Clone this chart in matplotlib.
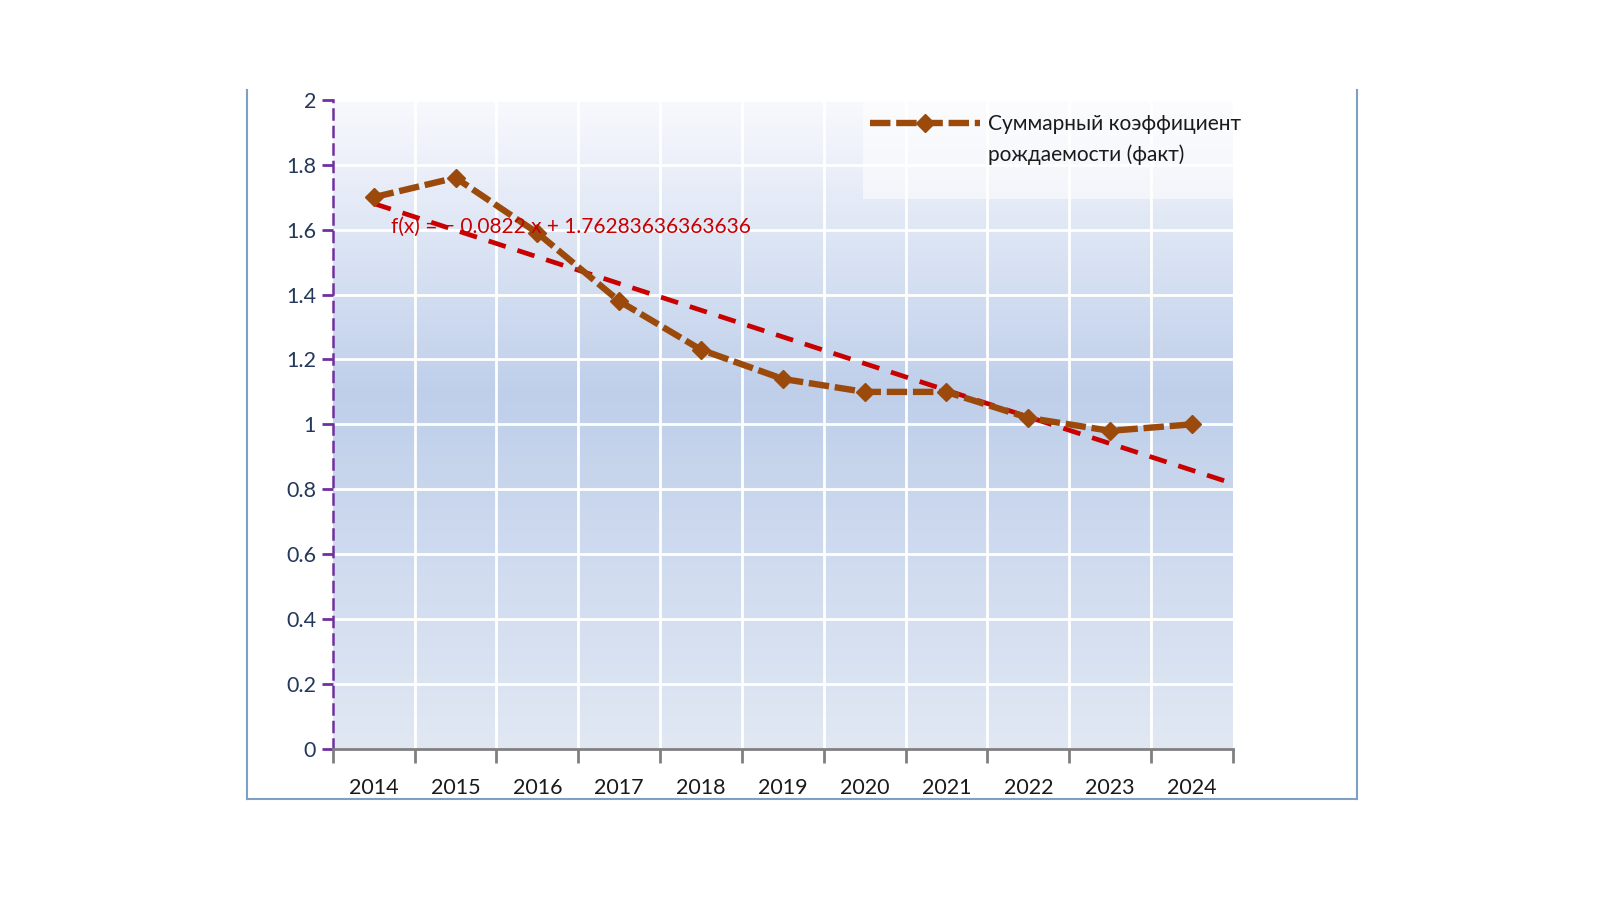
import numpy as np
import matplotlib
matplotlib.use("Agg")
import matplotlib.pyplot as plt
from matplotlib.colors import LinearSegmentedColormap
from matplotlib.lines import Line2D
from matplotlib.patches import Rectangle

plt.rcParams['font.family'] = ['Lato', 'Noto Sans', 'DejaVu Sans']

# данные: суммарный коэффициент рождаемости
years = ['2014', '2015', '2016', '2017', '2018', '2019', '2020', '2021', '2022', '2023', '2024']
tfr = [1.70, 1.76, 1.59, 1.38, 1.23, 1.14, 1.10, 1.10, 1.02, 0.98, 1.00]
trend_slope = -0.0822
trend_intercept = 1.76283636363636
legend_line1 = 'Суммарный коэффициент'
legend_line2 = 'рождаемости (факт)'
trend_label = 'f(x) = − 0.0822 x + 1.76283636363636'

fig = plt.figure(figsize=(16, 9), dpi=100)
ax = fig.add_axes([0.208, 0.168, 0.5625, 0.721])

n = len(years)
xs = np.arange(n) + 0.5

# фон с градиентом
bg = LinearSegmentedColormap.from_list('bg', [(0.0, '#e1e8f4'), (0.55, '#bfcfea'), (1.0, '#f8f9fd')])
grad = np.linspace(0, 1, 256).reshape(-1, 1)
ax.imshow(grad, cmap=bg, aspect='auto', origin='lower', extent=[0, 1, 0, 1],
          transform=ax.transAxes, zorder=0)

ax.set_xlim(0, n)
ax.set_ylim(0, 2)

# сетка
for v in np.arange(0.2, 2.01, 0.2):
    ax.axhline(v, color='white', lw=2, zorder=1)
for b in range(1, n):
    ax.axvline(b, color='white', lw=2, zorder=1)

# линия тренда (от первой точки до края оси)
tx = np.array([1, n + 0.5])
ax.plot(tx - 0.5, trend_slope * tx + trend_intercept, color='#c80000', lw=3.4,
        dashes=(3.8, 2.6), zorder=3)

# фактические значения
ax.plot(xs, tfr, color='#9b4a0c', lw=4.6, dashes=(3.2, 0.9), marker='D', ms=9.5,
        mfc='#9b4a0c', mec='#9b4a0c', zorder=4, label=legend_line1)

ax.text(0.71, 1.61, trend_label, color='#c80000', fontsize=15, va='center', ha='left', zorder=5)

# оси
ax.set_xticks(np.arange(0, n + 1))
ax.set_xticklabels([])
ax.set_xticks(xs, minor=True)
ax.set_xticklabels(years, minor=True, fontsize=15.5, color='#1a1a1a')
ax.tick_params(axis='x', which='major', length=10, width=2, color='#808080', direction='out')
ax.tick_params(axis='x', which='minor', length=0, pad=21)
ax.set_yticks(np.arange(0, 2.01, 0.2))
ax.set_yticklabels(['0', '0.2', '0.4', '0.6', '0.8', '1', '1.2', '1.4', '1.6', '1.8', '2'],
                   fontsize=15.5, color='#23385a')
ax.tick_params(axis='y', length=8, width=2, color='#7030a0', direction='out', pad=4)

for s in ['top', 'right']:
    ax.spines[s].set_visible(False)
ax.spines['bottom'].set_color('#808080')
ax.spines['bottom'].set_linewidth(2)
ax.spines['left'].set_color('#7030a0')
ax.spines['left'].set_linewidth(1.8)
ax.spines['left'].set_linestyle((0, (4, 3)))

# подложка легенды
ax.add_patch(Rectangle((0.589, 0.847), 0.411, 0.153, transform=ax.transAxes,
                       facecolor='white', alpha=0.55, edgecolor='none', zorder=2))
leg = ax.legend(loc='center left', bbox_to_anchor=(0.5967, 0.9625), frameon=False, fontsize=15,
                handlelength=5.3, handletextpad=0.37, borderpad=0, borderaxespad=0,
                labelcolor='#1a1a1a')
ax.text(0.7278, 0.9150, legend_line2, transform=ax.transAxes, fontsize=15, color='#1a1a1a',
        va='center', ha='left', zorder=5)

# рамка рисунка
fc = '#7ea0c4'
fig.add_artist(Line2D([247 / 1600, 247 / 1600], [1 - 90 / 900, 1 - 799 / 900], color=fc, lw=1.5))
fig.add_artist(Line2D([1357 / 1600, 1357 / 1600], [1 - 90 / 900, 1 - 799 / 900], color=fc, lw=1.5))
fig.add_artist(Line2D([247 / 1600, 1357 / 1600], [1 - 799 / 900, 1 - 799 / 900], color=fc, lw=1.5))

fig.savefig('out.png', dpi=100, facecolor='white')
